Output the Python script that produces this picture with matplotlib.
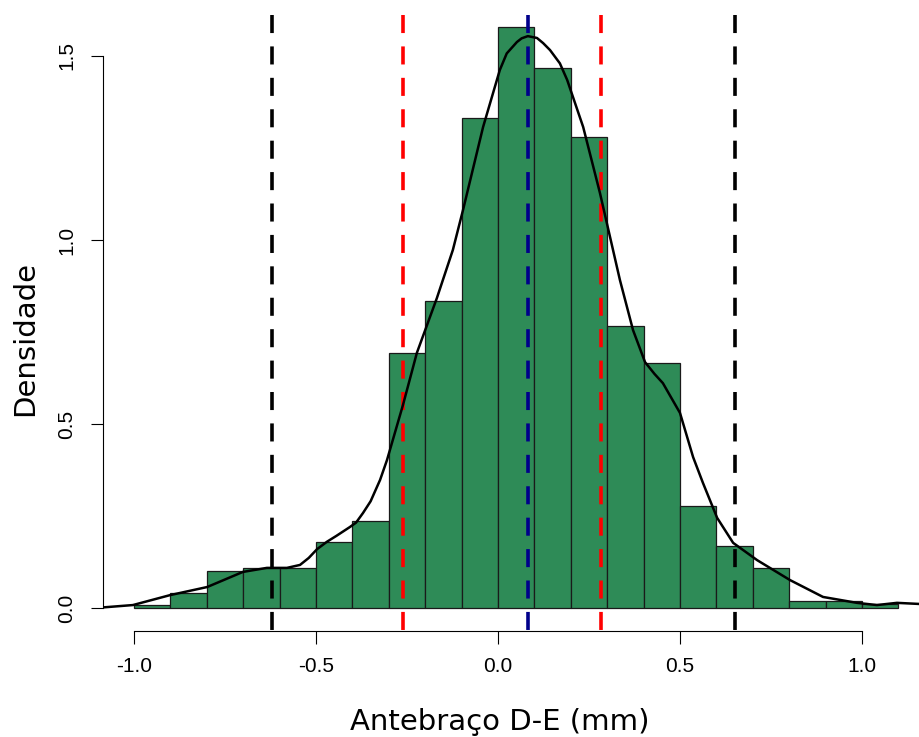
import numpy as np
import matplotlib
matplotlib.use("Agg")
from matplotlib import pyplot as plt

plt.rcParams['axes.unicode_minus'] = False

# Histogram (density scale), bins of width 0.1
bin_left = [-1.0, -0.9, -0.8, -0.7, -0.6, -0.5, -0.4, -0.3, -0.2, -0.1, 0.0,
            0.1, 0.2, 0.3, 0.4, 0.5, 0.6, 0.7, 0.8, 0.9, 1.0]
bin_width = 0.1
density = [0.008, 0.040, 0.101, 0.110, 0.110, 0.180, 0.237, 0.694, 0.834, 1.331, 1.580,
           1.468, 1.281, 0.766, 0.667, 0.278, 0.168, 0.108, 0.020, 0.020, 0.011]

# Kernel density estimate
kde_x = [-1.093, -1.003, -0.901, -0.799, -0.701, -0.635, -0.580, -0.544, -0.520, -0.497,
         -0.470, -0.444, -0.407, -0.390, -0.371, -0.350, -0.324, -0.305, -0.261, -0.223,
         -0.168, -0.124, -0.096, -0.041, 0.005, 0.024, 0.052, 0.065, 0.082, 0.107,
         0.124, 0.143, 0.170, 0.190, 0.234, 0.280, 0.299, 0.335, 0.371, 0.404,
         0.430, 0.453, 0.500, 0.536, 0.563, 0.602, 0.646, 0.712, 0.802, 0.893,
         0.986, 1.041, 1.096, 1.157]
kde_y = [0.001, 0.008, 0.035, 0.057, 0.098, 0.109, 0.109, 0.117, 0.136, 0.160,
         0.180, 0.196, 0.220, 0.232, 0.258, 0.290, 0.348, 0.402, 0.552, 0.693,
         0.842, 0.973, 1.082, 1.307, 1.462, 1.507, 1.538, 1.548, 1.554, 1.549,
         1.535, 1.516, 1.480, 1.435, 1.307, 1.128, 1.046, 0.891, 0.755, 0.668,
         0.636, 0.611, 0.530, 0.410, 0.340, 0.245, 0.177, 0.130, 0.076, 0.030,
         0.014, 0.008, 0.014, 0.011]

# Reference lines: mean, inner and outer limits
mean_line = 0.082
inner_lines = [-0.261, 0.283]
outer_lines = [-0.622, 0.651]

xticks = [-1.0, -0.5, 0.0, 0.5, 1.0]
yticks = [0.0, 0.5, 1.0, 1.5]

W, H = 919, 737
fig = plt.figure(figsize=(W / 100, H / 100), dpi=100)
# plot region in pixels: left 103, right 919, top 15, bottom 631
ax = fig.add_axes([103 / W, (H - 631) / H, 816 / W, 616 / H])
ax.set_xlim(-1.0852, 1.1566)
ax.set_ylim(-0.0625, 1.6114)
y0, y1 = ax.get_ylim()

ax.bar(bin_left, density, width=bin_width, align='edge', color='#2E8B57',
       edgecolor='#1a1a1a', linewidth=0.9, zorder=1)

def vline(x, color):
    ax.plot([x, x], [y1, y0], color=color, lw=2.6, dashes=(5.0, 3.7),
            dash_capstyle='butt', zorder=2)

for v in outer_lines:
    vline(v, 'black')
for v in inner_lines:
    vline(v, 'red')
vline(mean_line, '#00008B')

ax.plot(kde_x, kde_y, color='black', lw=1.8, zorder=3,
        solid_joinstyle='round')

for s in ['top', 'right']:
    ax.spines[s].set_visible(False)
ax.spines['left'].set_bounds(0, 1.5)
ax.spines['bottom'].set_bounds(-1.0, 1.0)
for s in ['left', 'bottom']:
    ax.spines[s].set_linewidth(0.8)

ax.set_xticks(xticks)
ax.set_xticklabels([f"{t:.1f}" for t in xticks], fontfamily='Liberation Sans', fontsize=15)
ax.set_yticks(yticks)
ax.set_yticklabels([f"{t:.1f}" for t in yticks], fontfamily='Liberation Sans', fontsize=15,
                   rotation=90, va='center')
ax.tick_params(axis='both', length=9, width=0.8, pad=10)

fig.text(500 / W, 1 - 730 / H, "Antebraço D-E (mm)", fontfamily='DejaVu Sans',
         fontsize=21, ha='center', va='baseline')
fig.text(33 / W, 1 - 338 / H, "Densidade", fontfamily='DejaVu Sans', fontsize=21,
         rotation=90, rotation_mode='anchor', ha='center', va='baseline')

fig.savefig("out.png", dpi=100)
